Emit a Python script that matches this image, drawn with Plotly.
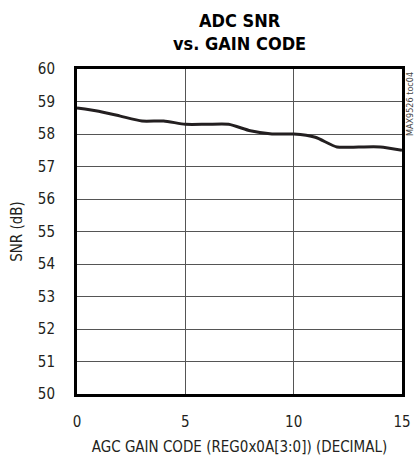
import plotly.graph_objects as go

# AGC gain code (decimal) and measured ADC SNR in dB
gain_code = [0, 1, 2, 3, 4, 5, 6, 7, 8, 9, 10, 11, 12, 13, 14, 15]
snr_db = [58.8, 58.7, 58.55, 58.4, 58.4, 58.3, 58.3, 58.3, 58.1, 58.0,
          58.0, 57.9, 57.6, 57.6, 57.6, 57.5]

x_ticks = [0, 5, 10, 15]
y_ticks = list(range(50, 61))

FONT = "DejaVu Sans Condensed, Liberation Sans Narrow, sans-serif"

fig = go.Figure()
fig.add_trace(go.Scatter(
    x=gain_code, y=snr_db, mode="lines",
    line=dict(color="#231f20", width=3, shape="spline", smoothing=0.6),
    showlegend=False, hoverinfo="skip",
))

fig.update_layout(
    width=414, height=458,
    margin=dict(l=77, r=12, t=69, b=64),
    paper_bgcolor="white", plot_bgcolor="white",
    font=dict(family=FONT, size=15, color="#231f20"),
    xaxis=dict(
        range=[0, 15], tickvals=x_ticks, ticks="", showgrid=True,
        gridcolor="#555555", gridwidth=1, zeroline=False,
        showline=True, linecolor="black", linewidth=3, mirror=True,
        ticklabelstandoff=12, automargin=False,
        title=dict(text="AGC GAIN CODE (REG0x0A[3:0]) (DECIMAL)",
                   font=dict(size=15), standoff=12),
    ),
    yaxis=dict(
        range=[50, 60], tickvals=y_ticks, ticks="", showgrid=True,
        gridcolor="#555555", gridwidth=1, zeroline=False,
        showline=True, linecolor="black", linewidth=3, mirror=True,
        ticklabelstandoff=16, automargin=False,
        title=dict(text="SNR (dB)", font=dict(size=15), standoff=12),
    ),
    annotations=[
        dict(text="<b>ADC SNR</b>", showarrow=False,
             xref="paper", yref="paper", x=0.5, y=1.0,
             xanchor="center", yanchor="middle", yshift=49,
             font=dict(family=FONT, size=18, color="#000000")),
        dict(text="<b>vs. GAIN CODE</b>", showarrow=False,
             xref="paper", yref="paper", x=0.5, y=1.0,
             xanchor="center", yanchor="middle", yshift=26,
             font=dict(family=FONT, size=18, color="#000000")),
        dict(text="MAX9526 toc04", textangle=-90, showarrow=False,
             xref="paper", yref="paper", x=1.0, y=1.0, xanchor="left",
             yanchor="top", xshift=1, yshift=-1,
             font=dict(family=FONT, size=9, color="#444444")),
    ],
)

fig.write_html("out.html")
